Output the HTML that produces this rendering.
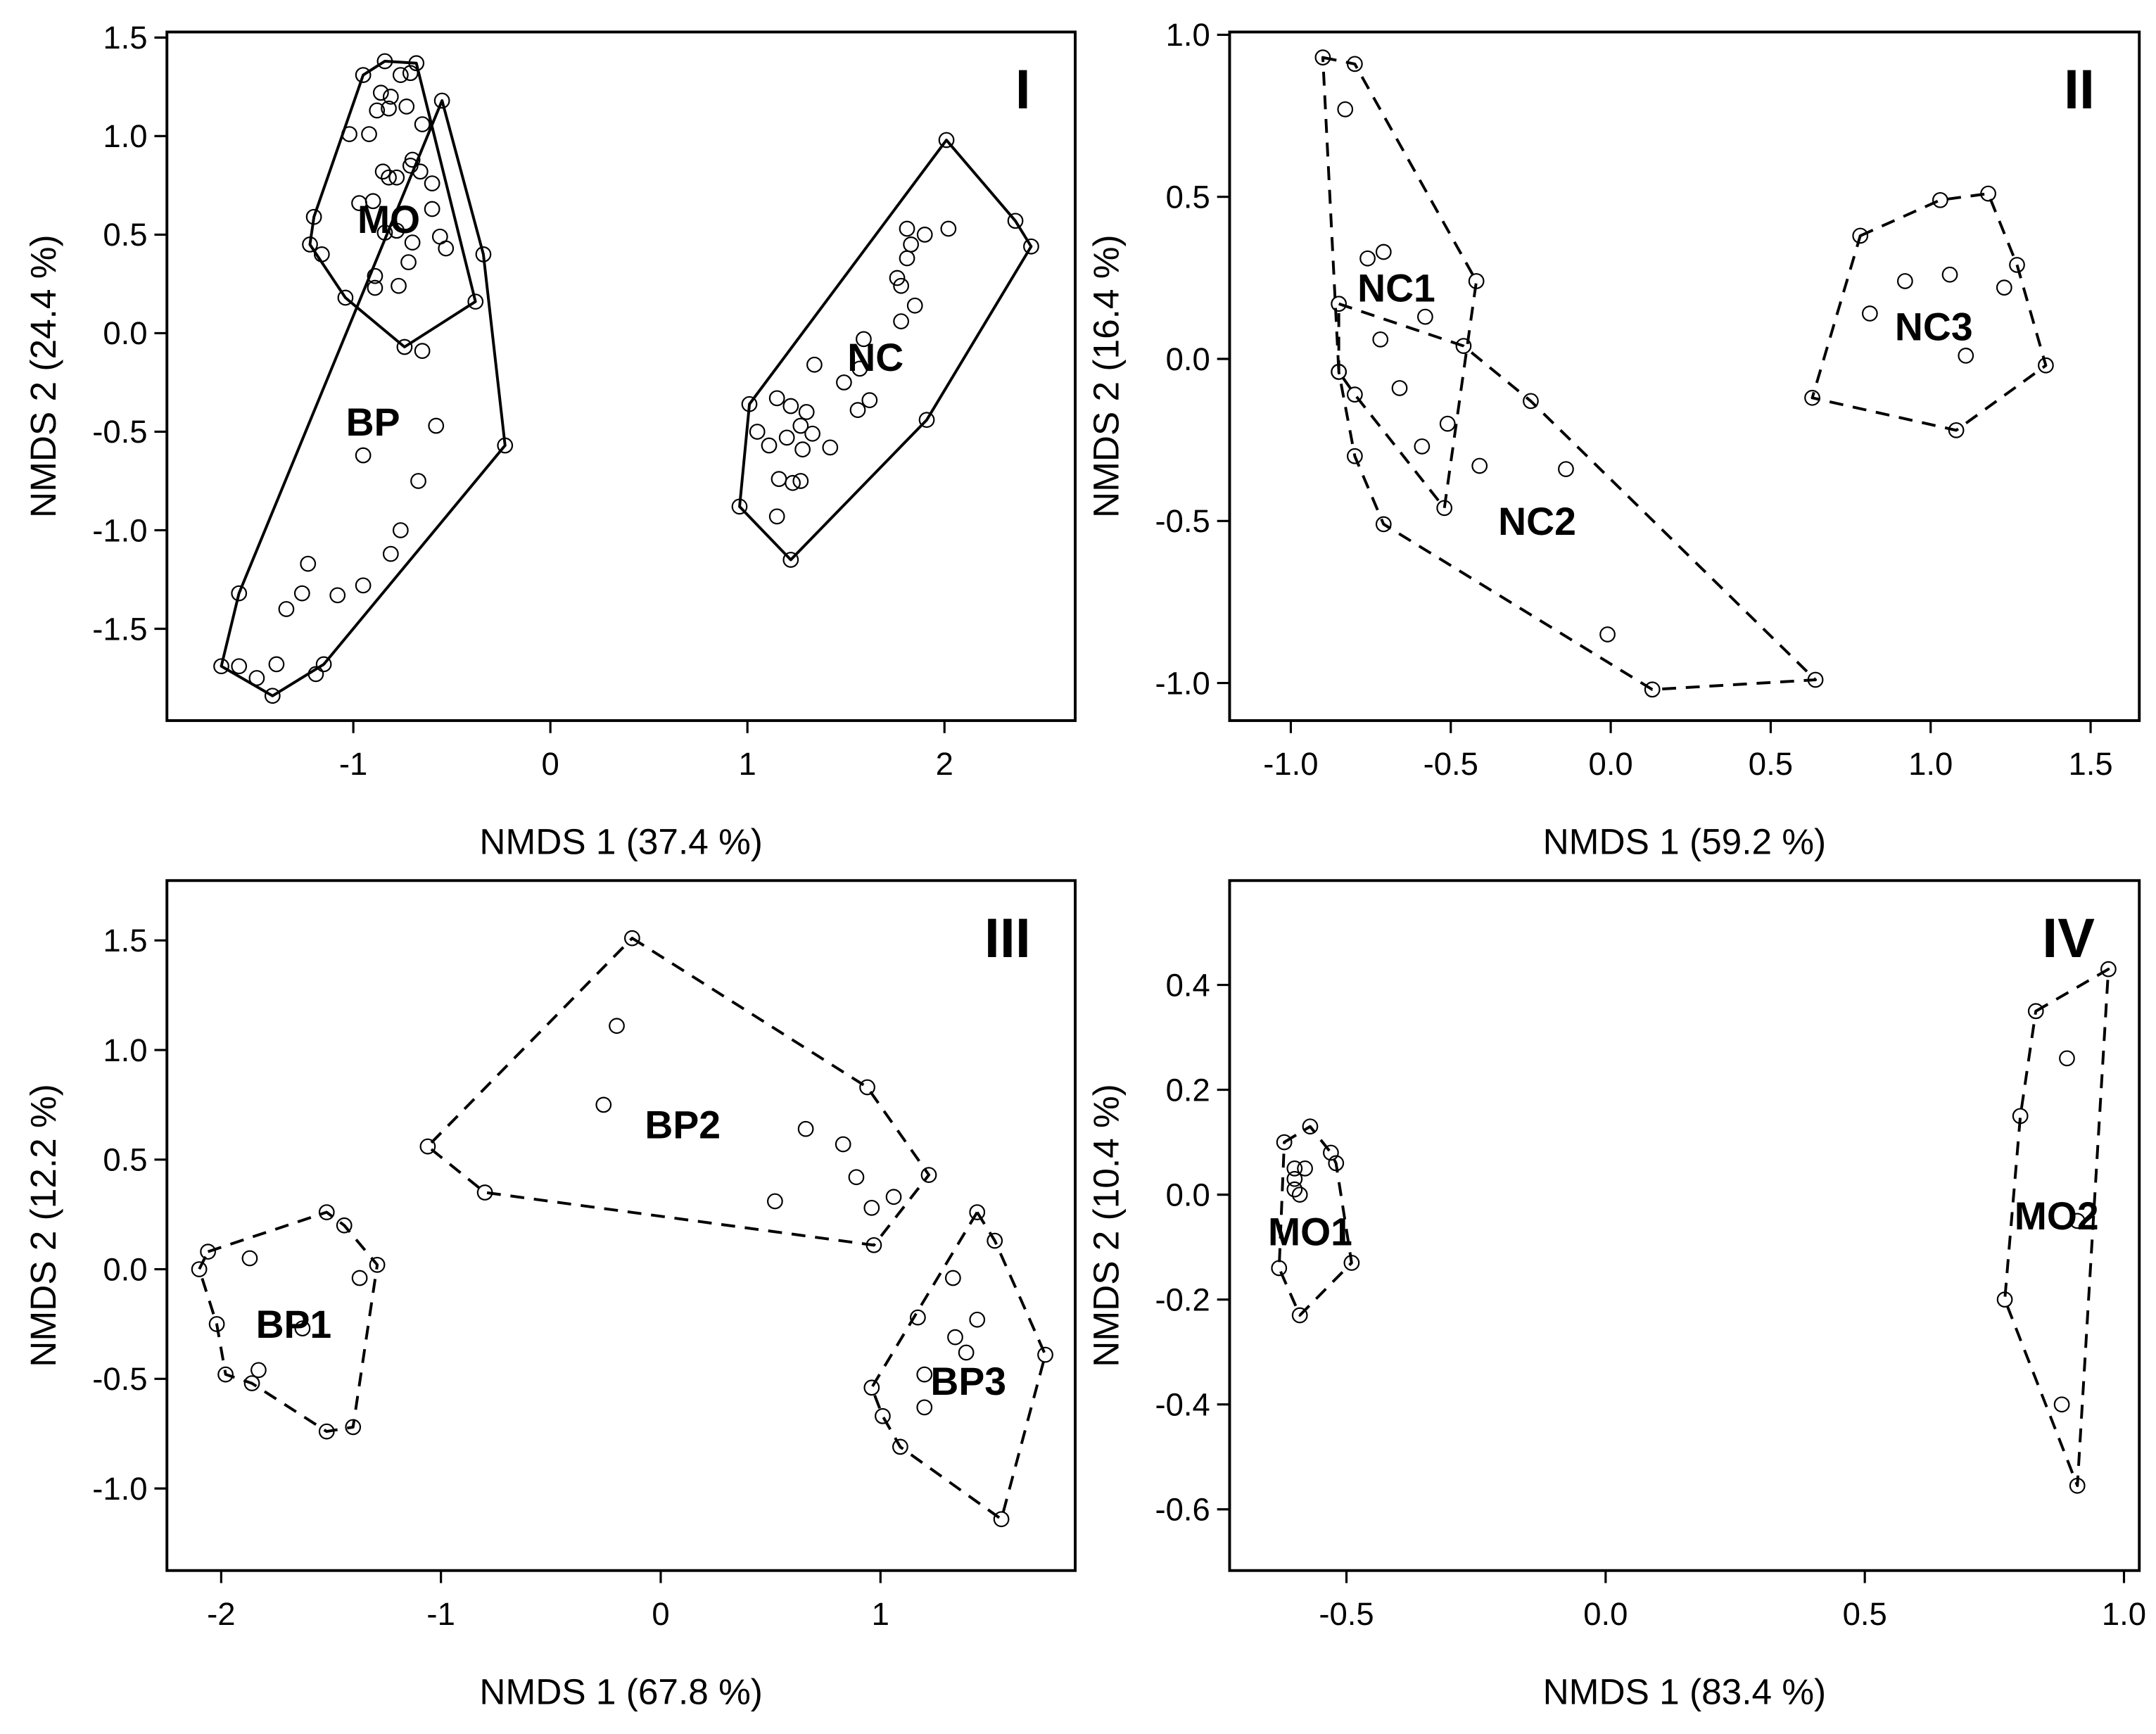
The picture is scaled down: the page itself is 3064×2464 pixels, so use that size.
<!DOCTYPE html>
<html><head><meta charset="utf-8"><title>NMDS panels</title>
<style>
html,body{margin:0;padding:0;background:#fff;}
svg{display:block;}
text{font-family:"Liberation Sans",Arial,sans-serif;fill:#000;}
</style></head>
<body>
<svg id="fig" xmlns="http://www.w3.org/2000/svg" width="3064" height="2464" viewBox="0 0 1550 1246.5"></svg>
<script>
// ---------- Panel I data ----------
const p1_BP_x = [-0.55,-0.34,-0.23,-1.15,-1.41,-1.67,-1.58];
const p1_BP_y = [1.18,0.40,-0.57,-1.68,-1.84,-1.69,-1.32];
const p1_BPin_x = [-0.58,-0.95,-0.67,-0.76,-0.81,-1.23,-1.26,-1.08,-1.34,-0.95,-1.58,-1.49,-1.39,-1.19];
const p1_BPin_y = [-0.47,-0.62,-0.75,-1.00,-1.12,-1.17,-1.32,-1.33,-1.40,-1.28,-1.69,-1.75,-1.68,-1.73];
const p1_MO_x = [-1.20,-0.95,-0.84,-0.68,-0.38,-0.74,-1.04,-1.22];
const p1_MO_y = [0.59,1.31,1.38,1.37,0.16,-0.07,0.18,0.45];
const p1_MOin_x = [-0.76,-0.71,-0.86,-0.81,-0.88,-0.82,-0.73,-1.02,-0.92,-0.65,-0.70,-0.71,-0.66,-0.85,-0.82,-0.78,-0.60,-0.90,-0.97,-0.60,-0.84,-0.78,-0.70,-0.56,-0.53,-0.72,-1.16,-0.89,-0.89,-0.77,-0.65];
const p1_MOin_y = [1.31,1.32,1.22,1.20,1.13,1.14,1.15,1.01,1.01,1.06,0.88,0.85,0.82,0.82,0.79,0.79,0.76,0.67,0.66,0.63,0.51,0.52,0.46,0.49,0.43,0.36,0.40,0.29,0.23,0.24,-0.09];
const p1_NC_x = [2.01,2.36,2.44,1.91,1.22,0.96,1.01];
const p1_NC_y = [0.98,0.57,0.44,-0.44,-1.15,-0.88,-0.36];
const p1_NCin_x = [1.81,1.90,2.02,1.83,1.81,1.76,1.78,1.85,1.78,1.59,1.57,1.34,1.49,1.62,1.56,1.15,1.22,1.30,1.27,1.05,1.20,1.33,1.42,1.11,1.28,1.16,1.23,1.27,1.15];
const p1_NCin_y = [0.53,0.50,0.53,0.45,0.38,0.28,0.24,0.14,0.06,-0.03,-0.18,-0.16,-0.25,-0.34,-0.39,-0.33,-0.37,-0.40,-0.47,-0.50,-0.53,-0.51,-0.58,-0.57,-0.59,-0.74,-0.76,-0.75,-0.93];
// ---------- Panel II data ----------
const p2_NC1_x = [-0.90,-0.80,-0.42,-0.52,-0.80,-0.85];
const p2_NC1_y = [0.93,0.91,0.24,-0.46,-0.11,-0.04];
const p2_NC2_x = [-0.85,-0.46,-0.25,0.64,0.13,-0.71,-0.80,-0.85];
const p2_NC2_y = [0.17,0.04,-0.13,-0.99,-1.02,-0.51,-0.30,-0.04];
const p2_NC3_x = [0.78,1.03,1.18,1.27,1.36,1.08,0.63];
const p2_NC3_y = [0.38,0.49,0.51,0.29,-0.02,-0.22,-0.12];
const p2_in_x = [-0.83,-0.76,-0.71,-0.58,-0.72,-0.66,-0.51,-0.59,-0.41,-0.14,-0.01,0.92,1.06,1.23,0.81,1.11];
const p2_in_y = [0.77,0.31,0.33,0.13,0.06,-0.09,-0.20,-0.27,-0.33,-0.34,-0.85,0.24,0.26,0.22,0.14,0.01];
// ---------- Panel III data ----------
const p3_BP1_x = [-2.06,-1.52,-1.44,-1.29,-1.40,-1.52,-1.86,-1.98,-2.02,-2.10];
const p3_BP1_y = [0.08,0.26,0.20,0.02,-0.72,-0.74,-0.52,-0.48,-0.25,0.00];
const p3_BP2_x = [-0.13,0.94,1.22,0.97,-0.80,-1.06];
const p3_BP2_y = [1.51,0.83,0.43,0.11,0.35,0.56];
const p3_BP3_x = [1.44,1.52,1.75,1.55,1.09,1.01,0.96];
const p3_BP3_y = [0.26,0.13,-0.39,-1.14,-0.81,-0.67,-0.54];
const p3_in_x = [-1.87,-1.37,-1.63,-1.83,-0.20,-0.26,0.66,0.83,0.89,0.52,1.06,0.96,1.33,1.17,1.44,1.34,1.39,1.20,1.20];
const p3_in_y = [0.05,-0.04,-0.27,-0.46,1.11,0.75,0.64,0.57,0.42,0.31,0.33,0.28,-0.04,-0.22,-0.23,-0.31,-0.38,-0.48,-0.63];
// ---------- Panel IV data ----------
const p4_MO1_x = [-0.62,-0.57,-0.53,-0.52,-0.49,-0.59,-0.63];
const p4_MO1_y = [0.10,0.13,0.08,0.06,-0.13,-0.23,-0.14];
const p4_MO2_x = [0.83,0.97,0.91,0.77,0.80];
const p4_MO2_y = [0.35,0.43,-0.555,-0.20,0.15];
const p4_in_x = [-0.60,-0.58,-0.60,-0.60,-0.59,0.89,0.91,0.88];
const p4_in_y = [0.05,0.05,0.03,0.01,0.00,0.26,-0.05,-0.40];
// ---------- ticks ----------
const p1_xticks = [-1,0,1,2];
const p1_xlabels = ["-1","0","1","2"];
const p1_yticks = [1.5,1.0,0.5,0,-0.5,-1.0,-1.5];
const p1_ylabels = ["1.5","1.0","0.5","0.0","-0.5","-1.0","-1.5"];
const p2_xticks = [-1.0,-0.5,0,0.5,1.0,1.5];
const p2_xlabels = ["-1.0","-0.5","0.0","0.5","1.0","1.5"];
const p2_yticks = [1.0,0.5,0,-0.5,-1.0];
const p2_ylabels = ["1.0","0.5","0.0","-0.5","-1.0"];
const p3_xticks = [-2,-1,0,1];
const p3_xlabels = ["-2","-1","0","1"];
const p3_yticks = [1.5,1.0,0.5,0,-0.5,-1.0];
const p3_ylabels = ["1.5","1.0","0.5","0.0","-0.5","-1.0"];
const p4_xticks = [-0.5,0,0.5,1.0];
const p4_xlabels = ["-0.5","0.0","0.5","1.0"];
const p4_yticks = [0.4,0.2,0,-0.2,-0.4,-0.6];
const p4_ylabels = ["0.4","0.2","0.0","-0.2","-0.4","-0.6"];

const NS = "http://www.w3.org/2000/svg";
const svg = document.getElementById('fig');
function mk(tag, attrs, parent){
  const e = document.createElementNS(NS, tag);
  for (const k in attrs) e.setAttribute(k, attrs[k]);
  (parent||svg).appendChild(e);
  return e;
}
function lin(d0,d1,r0,r1){ return v => r0 + (v-d0)*(r1-r0)/(d1-d0); }

function panel(cfg){
  const g = mk('g', {});
  
  
  const sx = lin(cfg.xd[0], cfg.xd[1], cfg.xr[0], cfg.xr[1]);
  const sy = lin(cfg.yd[0], cfg.yd[1], cfg.yr[0], cfg.yr[1]);
  const b = cfg.box;
  const frame = mk('rect', {x:b[0], y:b[1], width:b[2]-b[0], height:b[3]-b[1], fill:'none', stroke:'#000', 'stroke-width':2}, g);
  
  
  cfg.xt.forEach((v,i)=>{
    const x = sx(v);
    const t = mk('line', {x1:x, x2:x, y1:b[3], y2:b[3]+9, stroke:'#000', 'stroke-width':1.6}, g);
    
    
    const l = mk('text', {x:x, y:b[3]+39, 'text-anchor':'middle', 'font-size':23}, g);
    
    
    l.textContent = cfg.xl[i];
  });
  cfg.yt.forEach((v,i)=>{
    const y = sy(v);
    const t = mk('line', {x1:b[0]-9, x2:b[0], y1:y, y2:y, stroke:'#000', 'stroke-width':1.6}, g);
    
    
    const l = mk('text', {x:b[0]-14, y:y+8, 'text-anchor':'end', 'font-size':23}, g);
    
    
    l.textContent = cfg.yl[i];
  });
  const xt = mk('text', {x:(b[0]+b[2])/2, y:b[3]+96, 'text-anchor':'middle', 'font-size':26}, g);
  
  
  xt.textContent = cfg.xtitle;
  const cy = (b[1]+b[3])/2;
  const yt = mk('text', {x:b[0]-80, y:cy, 'text-anchor':'middle', 'font-size':26, transform:'rotate(-90 '+(b[0]-80)+' '+cy+')'}, g);
  
  
  yt.textContent = cfg.ytitle;
  const rn = mk('text', {x:b[2]-32, y:b[1]+55, 'text-anchor':'end', 'font-size':40, 'font-weight':'bold'}, g);
  
  
  rn.textContent = cfg.roman;
  cfg.hulls.forEach(h=>{
    const pts = h.x.map((v,i)=> sx(v).toFixed(1)+','+sy(h.y[i]).toFixed(1)).join(' ');
    const p = mk('polygon', {points:pts, fill:'none', stroke:'#000', 'stroke-width':2, 'stroke-dasharray': cfg.dashed ? '10 7' : 'none', 'stroke-linejoin':'round'}, g);
    
    
  });
  const allX = [], allY = [];
  cfg.hulls.forEach(h=>{ h.x.forEach((v,i)=>{allX.push(v); allY.push(h.y[i]);}); });
  cfg.inner.forEach(s=>{ s.x.forEach((v,i)=>{allX.push(v); allY.push(s.y[i]);}); });
  allX.forEach((v,i)=>{
    const c = mk('circle', {cx:sx(v), cy:sy(allY[i]), r:5.2, fill:'none', stroke:'#000', 'stroke-width':1.1}, g);
    
    
  });
  cfg.hulls.forEach(h=>{
    const t = mk('text', {x:sx(h.lx), y:sy(h.ly)+10, 'text-anchor':'middle', 'font-size':28, 'font-weight':'bold'}, g);
    
    
    t.textContent = h.label;
  });
}

panel({name:'panel-i', roman:'I', box:[120,23,773,518], xd:[-1,2], xr:[254,679], yd:[1.5,-1.5], yr:[27,452],
  xt:p1_xticks, xl:p1_xlabels, yt:p1_yticks, yl:p1_ylabels, xtitle:'NMDS 1 (37.4 %)', ytitle:'NMDS 2 (24.4 %)', dashed:false,
  hulls:[{x:p1_BP_x,y:p1_BP_y,label:'BP',lx:-0.9,ly:-0.45},{x:p1_MO_x,y:p1_MO_y,label:'MO',lx:-0.82,ly:0.58},{x:p1_NC_x,y:p1_NC_y,label:'NC',lx:1.65,ly:-0.12}],
  inner:[{x:p1_BPin_x,y:p1_BPin_y},{x:p1_MOin_x,y:p1_MOin_y},{x:p1_NCin_x,y:p1_NCin_y}]});

panel({name:'panel-ii', roman:'II', box:[884,23,1538,518], xd:[-1,1.5], xr:[928,1503], yd:[1,-1], yr:[25,491],
  xt:p2_xticks, xl:p2_xlabels, yt:p2_yticks, yl:p2_ylabels, xtitle:'NMDS 1 (59.2 %)', ytitle:'NMDS 2 (16.4 %)', dashed:true,
  hulls:[{x:p2_NC1_x,y:p2_NC1_y,label:'NC1',lx:-0.67,ly:0.22},{x:p2_NC2_x,y:p2_NC2_y,label:'NC2',lx:-0.23,ly:-0.50},{x:p2_NC3_x,y:p2_NC3_y,label:'NC3',lx:1.01,ly:0.10}],
  inner:[{x:p2_in_x,y:p2_in_y}]});

panel({name:'panel-iii', roman:'III', box:[120,633,773,1129], xd:[-2,1], xr:[159,633], yd:[1.5,-1], yr:[676,1070],
  xt:p3_xticks, xl:p3_xlabels, yt:p3_yticks, yl:p3_ylabels, xtitle:'NMDS 1 (67.8 %)', ytitle:'NMDS 2 (12.2 %)', dashed:true,
  hulls:[{x:p3_BP1_x,y:p3_BP1_y,label:'BP1',lx:-1.67,ly:-0.25},{x:p3_BP2_x,y:p3_BP2_y,label:'BP2',lx:0.10,ly:0.66},{x:p3_BP3_x,y:p3_BP3_y,label:'BP3',lx:1.40,ly:-0.51}],
  inner:[{x:p3_in_x,y:p3_in_y}]});

panel({name:'panel-iv', roman:'IV', box:[884,633,1538,1129], xd:[-0.5,1], xr:[968,1527], yd:[0.4,-0.6], yr:[708,1085],
  xt:p4_xticks, xl:p4_xlabels, yt:p4_yticks, yl:p4_ylabels, xtitle:'NMDS 1 (83.4 %)', ytitle:'NMDS 2 (10.4 %)', dashed:true,
  hulls:[{x:p4_MO1_x,y:p4_MO1_y,label:'MO1',lx:-0.57,ly:-0.07},{x:p4_MO2_x,y:p4_MO2_y,label:'MO2',lx:0.87,ly:-0.04}],
  inner:[{x:p4_in_x,y:p4_in_y}]});
</script>
</body></html>
